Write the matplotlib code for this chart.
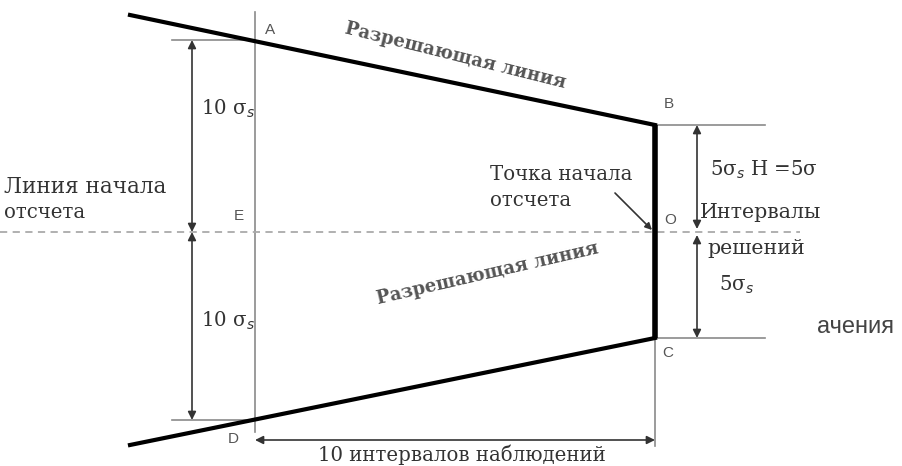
import matplotlib
matplotlib.use("Agg")
import matplotlib.pyplot as plt

# Geometry of the V-mask (pixel-like diagram units)
upper_x = [130, 655]
upper_y = [15, 125]
lower_x = [130, 655]
lower_y = [445, 338]
front_x = [655, 655]
front_y = [125, 338]
ref_y = 232
point_labels = ["A", "B", "E", "O", "C", "D"]
point_pos = [(265, 30), (664, 104), (234, 216), (664, 220), (662, 353), (228, 439)]

fig = plt.figure(figsize=(9.02, 4.66), dpi=100)
ax = fig.add_axes([0, 0, 1, 1])
ax.set_xlim(0, 902)
ax.set_ylim(466, 0)
ax.axis("off")

gray = "#8a8a8a"
serif = ["DejaVu Serif"]
sans = ["Liberation Sans", "DejaVu Sans"]

# thin gray guide lines
ax.plot([255, 255], [12, 432], color=gray, lw=1.2)
ax.plot([655, 655], [125, 446], color=gray, lw=1.2)
ax.plot([172, 255], [40, 40], color=gray, lw=1.2)
ax.plot([172, 255], [420, 420], color=gray, lw=1.2)
ax.plot([655, 765], [125, 125], color=gray, lw=1.2)
ax.plot([655, 765], [338, 338], color=gray, lw=1.2)
ax.plot([0, 800], [ref_y, ref_y], color="#aaaaaa", lw=1.3, ls=(0, (4, 3)))

# decision lines
ax.plot(upper_x, upper_y, color="black", lw=3)
ax.plot(lower_x, lower_y, color="black", lw=3)
ax.plot(front_x, front_y, color="black", lw=4, solid_capstyle="butt")

arr2 = dict(arrowstyle="<|-|>", color="#333333", lw=1.2, mutation_scale=12, shrinkA=0, shrinkB=0)
# left 10 sigma arrows
ax.annotate("", xy=(192, ref_y), xytext=(192, 40), arrowprops=arr2)
ax.annotate("", xy=(192, ref_y), xytext=(192, 420), arrowprops=arr2)
# right arrows
ax.annotate("", xy=(697, ref_y - 3), xytext=(697, 125), arrowprops=arr2)
ax.annotate("", xy=(697, ref_y + 3), xytext=(697, 338), arrowprops=arr2)
# bottom arrow
ax.annotate("", xy=(255, 440), xytext=(655, 440), arrowprops=arr2)
# pointer to O
ax.annotate("", xy=(652, 230), xytext=(615, 193),
            arrowprops=dict(arrowstyle="-|>", color="#333333", lw=1.2, mutation_scale=10,
                            shrinkA=0, shrinkB=0))

for lab, (px, py) in zip(point_labels, point_pos):
    ax.text(px, py, lab, fontsize=11, family=sans, color="#555555", ha="left", va="center")

tc = "#333333"
fs = 14.2
ax.text(201, 109, "10 σ$_s$", fontsize=fs, family=serif, color=tc, va="center")
ax.text(201, 321, "10 σ$_s$", fontsize=fs, family=serif, color=tc, va="center")
ax.text(4, 187, "Линия начала", fontsize=fs + 1.3, family=serif, color=tc, va="center")
ax.text(4, 212, "отсчета", fontsize=fs, family=serif, color=tc, va="center")
ax.text(490, 174, "Точка начала", fontsize=fs, family=serif, color=tc, va="center")
ax.text(490, 201, "отсчета", fontsize=fs, family=serif, color=tc, va="center")
ax.text(710, 170, "5σ$_s$ H =5σ", fontsize=fs, family=serif, color=tc, va="center")
ax.text(700, 213, "Интервалы", fontsize=fs + 0.6, family=serif, color=tc, va="center")
ax.text(707, 249, "решений", fontsize=fs + 0.6, family=serif, color=tc, va="center")
ax.text(719, 285, "5σ$_s$", fontsize=fs, family=serif, color=tc, va="center")
ax.text(817, 327, "ачения", fontsize=17, family=sans, color="#444444", va="center")
ax.text(462, 455, "10 интервалов наблюдений", fontsize=fs, family=serif, color=tc,
        ha="center", va="center")
ax.text(455, 56, "Разрешающая линия", fontsize=13, family=serif, color="#555555",
        fontweight="bold", rotation=-14, ha="center", va="center")
ax.text(488, 274, "Разрешающая линия", fontsize=13, family=serif, color="#555555",
        fontweight="bold", rotation=13, ha="center", va="center")

fig.savefig("out.png", dpi=100)
